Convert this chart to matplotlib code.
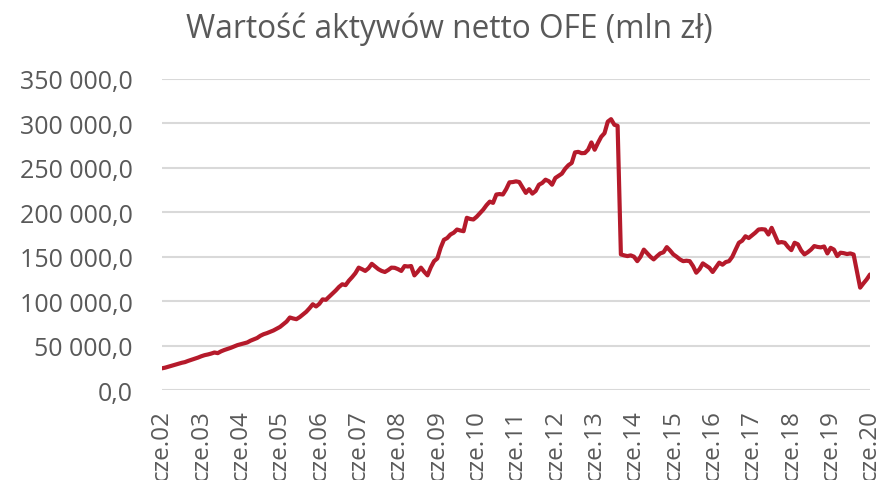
import matplotlib
matplotlib.use("Agg")
import matplotlib.pyplot as plt
from matplotlib.ticker import FuncFormatter

plt.rcParams['font.family'] = ['Open Sans', 'DejaVu Sans']

# Wartość aktywów netto OFE, mln zł, miesięcznie od czerwca 2002 do czerwca 2020 (tys. mln)
wartosci = [
    24.4, 25.2, 26.3, 27.4, 28.5, 29.6, 30.6, 31.4, 32.8, 34.0, 35.2, 36.5,          # 2002/03
    38.0, 39.2, 40.0, 41.0, 42.2, 41.5, 43.5, 45.0, 46.2, 47.5, 49.0, 50.5,          # 2003/04
    51.5, 52.5, 53.5, 55.5, 57.0, 58.5, 61.0, 62.8, 64.0, 65.5, 67.0, 69.0,          # 2004/05
    71.0, 74.0, 77.0, 81.6, 80.5, 79.7, 82.0, 85.0, 88.0, 92.0, 96.5, 94.0,          # 2005/06
    97.0, 102.0, 101.5, 105.0, 108.5, 112.0, 116.0, 119.0, 118.0, 123.0, 127.0, 131.5,  # 2006/07
    137.7, 136.0, 134.0, 137.0, 142.0, 139.0, 136.0, 134.0, 132.8, 135.0, 137.7, 137.5,  # 2007/08
    136.0, 134.0, 139.5, 139.0, 139.5, 129.0, 133.0, 137.7, 133.0, 129.0, 138.0, 145.0,  # 2008/09
    148.0, 160.0, 169.0, 171.0, 175.0, 177.0, 180.6, 179.5, 178.7, 193.8, 192.5, 191.9,  # 2009/10
    195.0, 199.0, 203.0, 208.0, 212.0, 210.6, 220.0, 220.5, 220.0, 226.0, 233.7, 234.0,  # 2010/11
    234.8, 234.0, 228.0, 221.8, 226.0, 221.0, 224.0, 231.0, 233.0, 236.7, 235.0, 231.0,  # 2011/12
    238.6, 241.0, 243.5, 249.0, 253.0, 255.5, 267.4, 268.0, 266.5, 266.7, 270.4, 278.6,  # 2012/13
    270.4, 278.0, 285.0, 289.0, 302.0, 304.8, 298.5, 297.3, 152.6, 151.5, 150.7, 151.5,  # 2013/14
    150.0, 145.0, 150.0, 158.0, 154.0, 150.0, 147.0, 150.5, 153.7, 155.0, 160.8, 157.0,  # 2014/15
    152.6, 150.0, 147.0, 145.0, 145.5, 145.0, 139.5, 132.0, 136.0, 142.5, 140.0, 137.5,  # 2015/16
    132.8, 138.0, 143.3, 141.0, 144.0, 145.0, 150.0, 158.0, 165.7, 168.0, 173.0, 171.0,  # 2016/17
    174.0, 177.0, 180.6, 181.0, 180.6, 175.0, 182.5, 174.0, 165.7, 166.5, 165.7, 161.0,  # 2017/18
    157.4, 165.7, 164.0, 157.0, 152.6, 155.0, 158.0, 162.0, 161.0, 160.5, 161.5, 153.7,  # 2018/19
    160.0, 158.0, 150.7, 154.5, 154.0, 153.0, 153.7, 152.5, 134.0, 115.2, 120.0, 124.5,  # 2019/20
    130.0,
]
wartosci = [v * 1000 for v in wartosci]

etykiety = ['cze.%02d' % r for r in range(2, 21)]
pozycje = [12 * i for i in range(len(etykiety))]

szary = '#595959'

fig = plt.figure(figsize=(8.81, 4.81), dpi=100)
ax = fig.add_axes([0.1839, 0.1871, 0.8036, 0.6466])

ax.plot(range(len(wartosci)), wartosci, color='#B51A2B', lw=3.0,
        solid_joinstyle='round', solid_capstyle='round', zorder=3)

ax.set_xlim(0, len(wartosci) - 1)
ax.set_ylim(0, 350000)
ax.set_yticks(range(0, 350001, 50000))
ax.yaxis.set_major_formatter(FuncFormatter(
    lambda v, p: '{:,.1f}'.format(v).replace(',', ' ').replace('.', ',')))
ax.set_xticks(pozycje)
ax.set_xticklabels(etykiety, rotation=90)

ax.grid(axis='y', color='#D9D9D9', lw=1.5)
ax.set_axisbelow(True)
for s in ax.spines.values():
    s.set_visible(False)
ax.tick_params(axis='both', length=0, labelcolor=szary)
ax.tick_params(axis='y', labelsize=18, pad=21)
ax.tick_params(axis='x', labelsize=17.5, pad=14)

fig.text(0.51, 0.939, 'Wartość aktywów netto OFE (mln zł)', ha='center', va='center',
         fontsize=22.8, color=szary)

fig.savefig('out.png', dpi=100)
